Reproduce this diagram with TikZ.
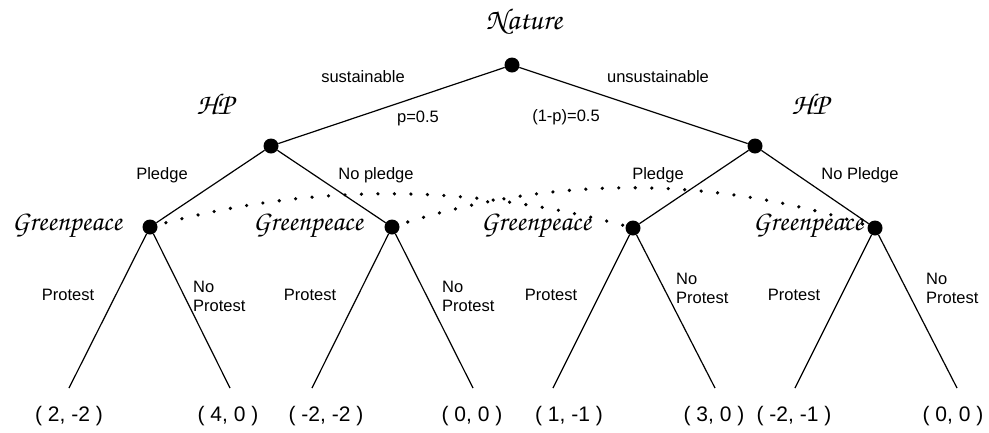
\documentclass[tikz,border=0pt]{standalone}
\usepackage{fontspec}
\setmainfont{Liberation Sans}
\newfontfamily\scriptf{texgyrechorus-mediumitalic.otf}
\begin{document}
\begin{tikzpicture}[x=1pt,y=-1pt,
  dec/.style={circle,fill=black,inner sep=0pt,minimum size=15pt},
  edge/.style={line width=1.2pt},
  info/.style={line width=3.6pt,line cap=round,dash pattern=on 0pt off 16.5pt},
  lbl/.style={font=\fontsize{16.5}{19}\selectfont,inner sep=0pt},
  lbl2/.style={lbl,align=left,anchor=west},
  pay/.style={font=\fontsize{21}{24}\selectfont,inner sep=0pt},
  who/.style={font=\fontsize{28}{30}\selectfont\scriptf,inner sep=0pt}]
\useasboundingbox (0,0) rectangle (989,432);

% information sets (drawn first)
\coordinate (c1) at (150,227);
\coordinate (c2) at (392,227);
\coordinate (c3) at (633,228);
\coordinate (c4) at (875,228);
\draw[info] (c1) .. controls +(161,-45) and +(-161,-45) .. (c3);
\draw[info] (c2) .. controls +(161,-53) and +(-161,-53) .. (c4);

% decision nodes
\node[dec] (n)  at (512,65) {};
\node[dec] (h1) at (271,146) {};
\node[dec] (h2) at (755,146) {};
\node[dec] (g1) at (c1) {};
\node[dec] (g2) at (c2) {};
\node[dec] (g3) at (c3) {};
\node[dec] (g4) at (c4) {};

% leaves
\coordinate (l1) at (69,388);
\coordinate (l2) at (230,388);
\coordinate (l3) at (312,388);
\coordinate (l4) at (473,388);
\coordinate (l5) at (553,388);
\coordinate (l6) at (715,388);
\coordinate (l7) at (795,388);
\coordinate (l8) at (957,388);

% edges
\draw[edge] (n) -- (h1);
\draw[edge] (n) -- (h2);
\draw[edge] (h1) -- (g1);
\draw[edge] (h1) -- (g2);
\draw[edge] (h2) -- (g3);
\draw[edge] (h2) -- (g4);
\draw[edge] (g1) -- (l1);
\draw[edge] (g1) -- (l2);
\draw[edge] (g2) -- (l3);
\draw[edge] (g2) -- (l4);
\draw[edge] (g3) -- (l5);
\draw[edge] (g3) -- (l6);
\draw[edge] (g4) -- (l7);
\draw[edge] (g4) -- (l8);

% players
\node[who,font=\fontsize{30}{32}\selectfont\scriptf] (tn)  at (524,22) {Nature};
\node[who,font=\fontsize{30}{32}\selectfont\scriptf] (th1) at (215,104) {HP};
\node[who,font=\fontsize{30}{32}\selectfont\scriptf] (th2) at (810,104) {HP};
\node[who] (tg1) at (67,226) {Greenpeace};
\node[who] (tg2) at (308,226) {Greenpeace};
\node[who] (tg3) at (536,226) {Greenpeace};
\node[who] (tg4) at (808,226) {Greenpeace};

% move labels
\node[lbl] (s)  at (363,77) {sustainable};
\node[lbl] (p)  at (418,118) {p=0.5};
\node[lbl] (u)  at (658,77) {unsustainable};
\node[lbl] (q)  at (566,117) {(1-p)=0.5};
\node[lbl] (a1) at (162,175) {Pledge};
\node[lbl] (a2) at (376,175) {No pledge};
\node[lbl] (a3) at (658,175) {Pledge};
\node[lbl] (a4) at (860,175) {No Pledge};

\node[lbl] (r1) at (68,295) {Protest};
\node[lbl2] (r2) at (193,296) {No\\Protest};
\node[lbl] (r3) at (310,295) {Protest};
\node[lbl2] (r4) at (442,296) {No\\Protest};
\node[lbl] (r5) at (551,295) {Protest};
\node[lbl2] (r6) at (676,288) {No\\Protest};
\node[lbl] (r7) at (794,295) {Protest};
\node[lbl2] (r8) at (926,288) {No\\Protest};

% payoffs
\node[pay] (v1) at (69,416) {( 2, -2 )};
\node[pay] (v2) at (228,416) {( 4, 0 )};
\node[pay] (v3) at (326,416) {( -2, -2 )};
\node[pay] (v4) at (472,416) {( 0, 0 )};
\node[pay] (v5) at (569,416) {( 1, -1 )};
\node[pay] (v6) at (714,416) {( 3, 0 )};
\node[pay] (v7) at (794,416) {( -2, -1 )};
\node[pay] (v8) at (953,416) {( 0, 0 )};
\end{tikzpicture}
\end{document}
